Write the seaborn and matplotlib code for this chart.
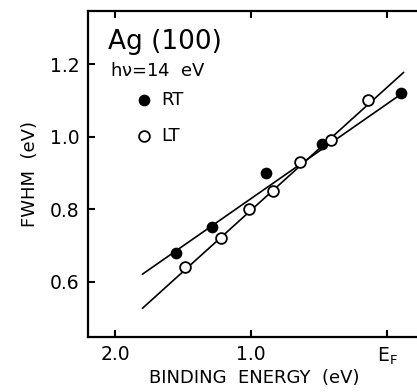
import numpy as np
import pandas as pd
import matplotlib
matplotlib.use("Agg")
import matplotlib.pyplot as plt
import seaborn as sns

# Data
rt_energy = [1.55, 1.29, 0.89, 0.48, -0.10]
rt_fwhm = [0.68, 0.75, 0.90, 0.98, 1.12]
lt_energy = [1.49, 1.22, 1.02, 0.84, 0.64, 0.415, 0.14]
lt_fwhm = [0.64, 0.72, 0.80, 0.85, 0.93, 0.99, 1.10]
fit_energy = [1.80, -0.12]
rt_fit = [0.621, 1.122]
lt_fit = [0.527, 1.177]
xtick_vals = [2.0, 1.0, 0.0]
xtick_labels = ["2.0", "1.0", r"E$_\mathregular{F}$"]
ytick_vals = [0.6, 0.8, 1.0, 1.2]
ytick_labels = ["0.6", "0.8", "1.0", "1.2"]

sns.set_style("ticks")
plt.rcParams['font.family'] = ['DejaVu Sans']
plt.rcParams['mathtext.default'] = 'regular'
plt.rcParams['text.color'] = 'black'
plt.rcParams['axes.labelcolor'] = 'black'

W, H = 417, 392
fig = plt.figure(figsize=(W / 100, H / 100), dpi=100)
ax = fig.add_axes([88 / W, 1 - 337 / H, (420 - 88) / W, (337 - 11) / H])

rt_df = pd.DataFrame({"energy": rt_energy, "fwhm": rt_fwhm})
lt_df = pd.DataFrame({"energy": lt_energy, "fwhm": lt_fwhm})
fit_df = pd.DataFrame({"energy": fit_energy, "rt": rt_fit, "lt": lt_fit})

sns.lineplot(data=fit_df, x="energy", y="rt", ax=ax, color="black", lw=1.2, zorder=2)
sns.lineplot(data=fit_df, x="energy", y="lt", ax=ax, color="black", lw=1.2, zorder=2)
sns.scatterplot(data=rt_df, x="energy", y="fwhm", ax=ax, marker="o", s=55,
                color="black", edgecolor="black", linewidth=1.0, zorder=3, label="RT")
sns.scatterplot(data=lt_df, x="energy", y="fwhm", ax=ax, marker="o", s=60,
                facecolor="white", edgecolor="black", linewidth=1.3, zorder=3, label="LT")

ax.set_xlim(2.2, -0.24)
ax.set_ylim(0.448, 1.346)
ax.set_xticks(xtick_vals)
ax.set_xticklabels(xtick_labels)
ax.set_yticks(ytick_vals)
ax.set_yticklabels(ytick_labels)
ax.tick_params(direction="in", length=5, width=1.5, labelsize=13.5, top=True,
               right=False, pad=6, colors="black")
for s in ax.spines.values():
    s.set_linewidth(1.6)
    s.set_color("black")
ax.spines["right"].set_visible(False)
ax.set_xlabel("BINDING  ENERGY  (eV)", fontsize=13, labelpad=2)
ax.set_ylabel("FWHM  (eV)", fontsize=13, labelpad=8)

fig.text(108 / W, 1 - 42 / H, "Ag (100)", fontsize=19, va="center", ha="left")
fig.text(110 / W, 1 - 71 / H, r"h$\nu$=14  eV", fontsize=13, va="center", ha="left")

leg = ax.legend(loc="upper left", bbox_to_anchor=((142.7 - 7) / W, 1 - 91 / H),
                bbox_transform=fig.transFigure, frameon=False, fontsize=13,
                handlelength=0.9, handletextpad=0.5, labelspacing=1.0, borderpad=0,
                borderaxespad=0)

fig.savefig("out.png", dpi=100)
